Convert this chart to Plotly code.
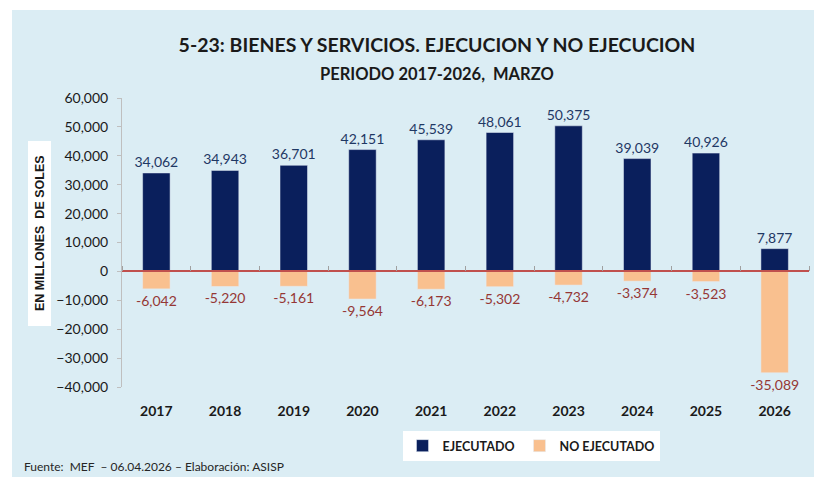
import plotly.graph_objects as go

years = ["2017", "2018", "2019", "2020", "2021", "2022", "2023", "2024", "2025", "2026"]
ejecutado = [34062, 34943, 36701, 42151, 45539, 48061, 50375, 39039, 40926, 7877]
no_ejecutado = [-6042, -5220, -5161, -9564, -6173, -5302, -4732, -3374, -3523, -35089]
y_ticks = [60000, 50000, 40000, 30000, 20000, 10000, 0, -10000, -20000, -30000, -40000]

NAVY = "#0a1f5c"
PEACH = "#f9c08f"
BG = "#dbedf4"
RED = "#c0504d"
NEG_TXT = "#953735"
FONT = "Lato, sans-serif"

W, H = 814, 477
L, R, T, B = 122, 5, 98, 90
PW, PH = W - L - R, H - T - B

def px(xp):
    return (xp - L) / PW

def py(yp):
    return (H - B - yp) / PH

fig = go.Figure()
fig.add_trace(go.Bar(
    x=years, y=ejecutado, name="<b>EJECUTADO</b>", marker_color=NAVY, width=0.4,
    text=[f"{v:,}" for v in ejecutado], textposition="outside", constraintext="none",
    textfont=dict(color="#1f3864", size=14, family=FONT), cliponaxis=False,
))
fig.add_trace(go.Bar(
    x=years, y=no_ejecutado, name="<b>NO EJECUTADO</b>", marker_color=PEACH, width=0.4,
    text=[f"{v:,}" for v in no_ejecutado], textposition="outside", constraintext="none",
    textfont=dict(color=NEG_TXT, size=14, family=FONT), cliponaxis=False,
))
# helper invisible trace for the zero-crossing axis
fig.add_trace(go.Scatter(x=years, y=[0] * len(years), xaxis="x2", mode="lines",
                         line=dict(width=0), hoverinfo="skip", showlegend=False))

rng = [-40000, 60000]
zero_pos = (0 - rng[0]) / (rng[1] - rng[0])

fig.update_layout(
    width=W, height=H, margin=dict(l=L, r=R, t=T, b=B),
    paper_bgcolor="white", plot_bgcolor="white",
    barmode="relative", bargap=0.6,
    font=dict(family=FONT, color="#262626"),
    title=dict(text="<b>5-23: BIENES Y SERVICIOS. EJECUCION Y NO EJECUCION</b>",
               x=437 / W, xanchor="center", y=1 - 45 / H, yanchor="middle",
               font=dict(size=19.5, color="#1a1a1a", family=FONT)),
    xaxis=dict(type="category", showline=False, ticks="", showgrid=False,
               tickfont=dict(size=14, color="#1a1a1a", family=FONT),
               ticklabelstandoff=14, tickprefix="<b>", ticksuffix="</b>"),
    xaxis2=dict(type="category", overlaying="x", matches="x", anchor="free",
                position=zero_pos, side="top", showline=True, linecolor=RED,
                linewidth=1.5, ticks="outside", tickson="boundaries", ticklen=5,
                tickcolor="#a0a0a0", showticklabels=False, showgrid=False),
    yaxis=dict(range=rng, tickvals=y_ticks, tickformat=",d", showgrid=False,
               zeroline=False, showline=True, linecolor="#bfbfbf", linewidth=1,
               ticks="outside", ticklen=4, tickcolor="#bfbfbf", ticklabelstandoff=6,
               tickfont=dict(size=14, color="#1a1a1a", family=FONT)),
    legend=dict(orientation="h", x=px(531), xanchor="center", y=py(446),
                yanchor="middle", bgcolor="white", borderwidth=0,
                font=dict(size=12.5, color="#1a1a1a", family=FONT),
                itemclick=False),
    showlegend=True,
)

fig.add_shape(type="rect", xref="paper", yref="paper", x0=px(12), x1=px(820),
              y0=py(480), y1=py(10), fillcolor=BG, line_width=0, layer="below")
fig.add_shape(type="rect", xref="paper", yref="paper", x0=px(28), x1=px(51),
              y0=py(326), y1=py(141), fillcolor="white", line_width=0, layer="below")

fig.add_annotation(text="<b>PERIODO 2017-2026,  MARZO</b>", xref="paper", yref="paper",
                   x=px(437), y=py(74), xanchor="center", yanchor="middle",
                   showarrow=False, font=dict(size=16.5, color="#1a1a1a", family=FONT))
fig.add_annotation(text="<b>EN MILLONES  DE SOLES</b>", xref="paper", yref="paper",
                   x=px(40), y=py(233), xanchor="center", yanchor="middle", textangle=-90,
                   showarrow=False, font=dict(size=12.5, color="#1a1a1a",
                                              family="Liberation Sans, Arial, sans-serif"))
fig.add_annotation(text="Fuente:  MEF  – 06.04.2026 – Elaboración: ASISP", xref="paper",
                   yref="paper", x=px(22), y=py(466), xanchor="left", yanchor="middle",
                   showarrow=False, font=dict(size=12, color="#262626", family=FONT))

fig.write_html("out.html", post_script="document.body.style.margin='0';",
               config={"displayModeBar": False})
